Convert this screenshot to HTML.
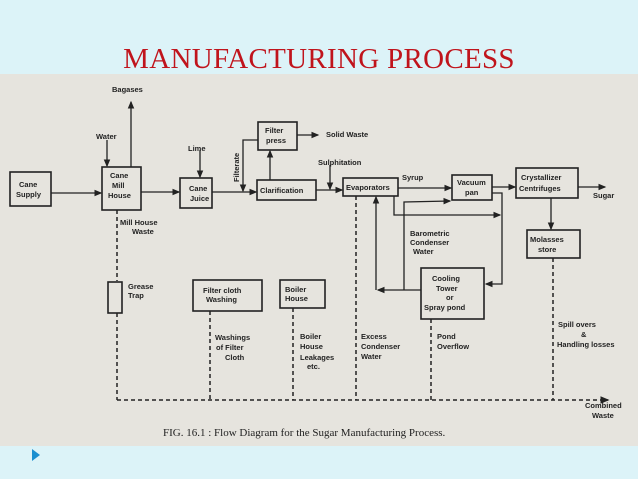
<!DOCTYPE html>
<html><head><meta charset="utf-8"><style>
html,body{margin:0;padding:0;width:638px;height:479px;overflow:hidden;background:#dcf3f8}
.t{position:absolute;left:0;top:42px;width:638px;text-align:center;font-family:"Liberation Serif",serif;font-size:29px;line-height:34px;color:#c0141c;letter-spacing:0.3px}
svg{position:absolute;left:0;top:0}
text{font-family:"Liberation Sans",sans-serif;font-size:7.5px;font-weight:bold;fill:#222}
</style></head><body>
<svg width="638" height="479" viewBox="0 0 638 479">
<defs><marker id="a" markerWidth="6" markerHeight="6" refX="5" refY="3" orient="auto"><path d="M0,0.5 L6,3 L0,5.5z" fill="#222"/></marker></defs>
<rect x="0" y="74" width="638" height="372" fill="#e6e4de"/>
<g stroke="#222" stroke-width="1.6" fill="none">
<rect x="10" y="172" width="41" height="34"/>
<rect x="102" y="167" width="39" height="43"/>
<rect x="180" y="178" width="32" height="30"/>
<rect x="257" y="180" width="59" height="20"/>
<rect x="258" y="122" width="39" height="28"/>
<rect x="343" y="178" width="55" height="18"/>
<rect x="452" y="175" width="40" height="25"/>
<rect x="516" y="168" width="62" height="30"/>
<rect x="527" y="230" width="53" height="28"/>
<rect x="421" y="268" width="63" height="51"/>
<rect x="108" y="282" width="14" height="31"/>
<rect x="193" y="280" width="69" height="31"/>
<rect x="280" y="280" width="45" height="28"/>
</g>
<g stroke="#222" stroke-width="1.3" fill="none" marker-end="url(#a)">
<line x1="51" y1="193" x2="101" y2="193"/>
<line x1="107" y1="140" x2="107" y2="166"/>
<line x1="131" y1="167" x2="131" y2="102"/>
<line x1="141" y1="192" x2="179" y2="192"/>
<line x1="200" y1="150" x2="200" y2="177"/>
<line x1="212" y1="192" x2="256" y2="192"/>
<polyline points="258,140 243,140 243,191"/>
<line x1="270" y1="180" x2="270" y2="151"/>
<line x1="297" y1="135" x2="318" y2="135"/>
<line x1="316" y1="190" x2="342" y2="190"/>
<line x1="330" y1="165" x2="330" y2="189"/>
<line x1="398" y1="188" x2="451" y2="188"/>
<line x1="492" y1="187" x2="515" y2="187"/>
<line x1="578" y1="187" x2="605" y2="187"/>
<line x1="551" y1="198" x2="551" y2="229"/>
<polyline points="394,196 394,215 500,215"/>
<polyline points="404,215 404,202 450,201"/>
<polyline points="492,193 502,193 502,284 486,284"/>
<polyline points="421,290 378,290"/>
<line x1="376" y1="290" x2="376" y2="197"/>
<line x1="404" y1="215" x2="404" y2="290" marker-end="none"/>
</g>
<g stroke="#222" stroke-width="1.5" fill="none" stroke-dasharray="4,3">
<line x1="117" y1="210" x2="117" y2="281"/>
<line x1="117" y1="313" x2="117" y2="400"/>
<line x1="210" y1="311" x2="210" y2="400"/>
<line x1="293" y1="308" x2="293" y2="400"/>
<line x1="356" y1="196" x2="356" y2="400"/>
<line x1="431" y1="319" x2="431" y2="400"/>
<line x1="553" y1="258" x2="553" y2="400"/>
<line x1="117" y1="400" x2="608" y2="400" marker-end="url(#a)"/>
</g>
<text x="112" y="92" font-size="6.5">Bagases</text>
<text x="19" y="187">Cane</text><text x="16" y="197">Supply</text>
<text x="96" y="139" font-size="6.5">Water</text>
<text x="110" y="178">Cane</text><text x="112" y="188">Mill</text><text x="108" y="198">House</text>
<text x="188" y="151">Lime</text>
<text x="189" y="191">Cane</text><text x="190" y="201">Juice</text>
<text transform="translate(239,182) rotate(-90)" font-size="6.5">Filterate</text>
<text x="265" y="133">Filter</text><text x="266" y="143">press</text>
<text x="326" y="137">Solid  Waste</text>
<text x="260" y="193">Clarification</text>
<text x="318" y="165">Sulphitation</text>
<text x="346" y="190">Evaporators</text>
<text x="402" y="180">Syrup</text>
<text x="457" y="185">Vacuum</text><text x="465" y="195">pan</text>
<text x="521" y="180">Crystallizer</text><text x="519" y="191">Centrifuges</text>
<text x="593" y="198">Sugar</text>
<text x="530" y="242">Molasses</text><text x="538" y="252">store</text>
<text x="410" y="236">Barometric</text><text x="410" y="245">Condenser</text><text x="413" y="254">Water</text>
<text x="120" y="225">Mill House</text><text x="132" y="234">Waste</text>
<text x="432" y="281">Cooling</text><text x="436" y="291">Tower</text><text x="446" y="300">or</text><text x="424" y="310">Spray pond</text>
<text x="128" y="289">Grease</text><text x="128" y="298">Trap</text>
<text x="203" y="293">Filter cloth</text><text x="206" y="302">Washing</text>
<text x="285" y="292">Boiler</text><text x="285" y="301">House</text>
<text x="215" y="340">Washings</text><text x="216" y="350">of Filter</text><text x="225" y="360">Cloth</text>
<text x="300" y="339">Boiler</text><text x="300" y="349">House</text><text x="300" y="360">Leakages</text><text x="307" y="369">etc.</text>
<text x="361" y="339">Excess</text><text x="361" y="349">Condenser</text><text x="361" y="359">Water</text>
<text x="437" y="339">Pond</text><text x="437" y="349">Overflow</text>
<text x="558" y="327">Spill overs</text><text x="581" y="337">&amp;</text><text x="557" y="347">Handling losses</text>
<text x="585" y="408">Combined</text><text x="592" y="418">Waste</text>
<text x="163" y="436" style="font-family:'Liberation Serif',serif;font-weight:normal;font-size:11px">FIG. 16.1 : Flow Diagram for the Sugar Manufacturing Process.</text>
<path d="M32,449 L40,455 L32,461z" fill="#1a8fd0"/>
</svg>
<div class="t">MANUFACTURING PROCESS</div>
</body></html>
